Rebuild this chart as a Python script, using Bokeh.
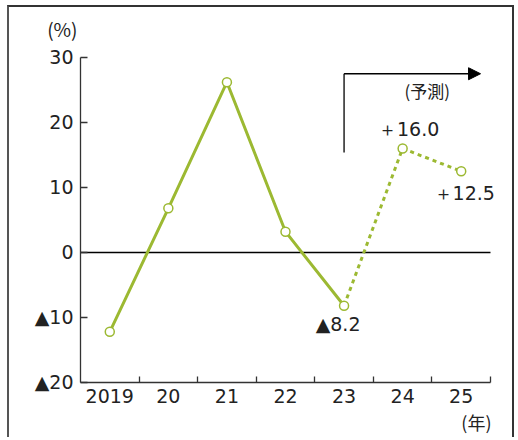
from bokeh.plotting import figure
from bokeh.models import Range1d, FixedTicker, Label, Arrow, NormalHead, ColumnDataSource
from bokeh.core.properties import value
from bokeh.embed import file_html
from bokeh.resources import INLINE

# ---- data ----
years = ["2019", "20", "21", "22", "23", "24", "25"]
growth = [-12.2, 6.8, 26.2, 3.2, -8.2, 16.0, 12.5]
n_actual = 5  # 2019..23 actual (solid), 23..25 forecast (dotted)
y_ticks = [-20, -10, 0, 10, 20, 30]
y_tick_labels = ["▲20", "▲10", "0", "10", "20", "30"]
label_idx = [4, 5, 6]
label_text = ["▲8.2", "＋16.0", "＋12.5"]
label_dx = [-6, 6, 3]
label_dy = [18, -19, 22]

GREEN = "#9cb932"
AXIS = "#333333"
TXT = "#222222"
NUM_FONT = "DejaVu Sans"
JP_FONT = "Noto Sans CJK JP"

xs = list(range(len(years)))
x_lo, x_hi = xs[0] - 0.5, xs[-1] + 0.5
y_lo, y_hi = y_ticks[0], y_ticks[-1]

# frame fills the whole canvas; axes are drawn at fixed positions inside it
W, H = 507, 432
p = figure(width=W, height=H,
           x_range=Range1d(-1.712, 6.944), y_range=Range1d(-28.77, 37.69),
           output_backend="svg", toolbar_location=None,
           min_border_left=0, min_border_right=0, min_border_top=0, min_border_bottom=0)
p.styles = {"margin-left": "7px", "margin-top": "5px",
            "border-left": "2px solid #555555", "border-top": "2px solid #333333",
            "border-right": "2px solid #333333"}
p.grid.visible = False
p.outline_line_color = None
p.background_fill_color = "white"
p.border_fill_color = "white"

# x axis: labels at category centres, tick marks at category boundaries
xa = p.xaxis[0]
xa.fixed_location = y_lo
xa.bounds = (x_lo, x_hi)
xa.ticker = FixedTicker(ticks=xs, minor_ticks=[i + 0.5 for i in xs])
xa.major_label_overrides = {i: years[i] for i in xs}
xa.major_tick_in = 0
xa.major_tick_out = 0
xa.minor_tick_in = 6
xa.minor_tick_out = 0
xa.minor_tick_line_color = AXIS
xa.minor_tick_line_width = 1.3
xa.axis_line_color = AXIS
xa.axis_line_width = 1.3
xa.major_label_text_font = NUM_FONT
xa.major_label_text_font_size = "19px"
xa.major_label_text_color = TXT
xa.major_label_standoff = 7

ya = p.yaxis[0]
ya.fixed_location = x_lo
ya.bounds = (y_lo, y_hi)
ya.ticker = FixedTicker(ticks=y_ticks, minor_ticks=[])
ya.major_label_overrides = {t: l for t, l in zip(y_ticks, y_tick_labels)}
ya.major_tick_in = 7
ya.major_tick_out = 0
ya.minor_tick_in = 0
ya.minor_tick_out = 0
ya.major_tick_line_color = AXIS
ya.major_tick_line_width = 1.3
ya.axis_line_color = AXIS
ya.axis_line_width = 1.3
ya.major_label_text_font = NUM_FONT
ya.major_label_text_font_size = "19px"
ya.major_label_text_color = TXT
ya.major_label_standoff = 7

# zero line across the category span
p.line([x_lo, x_hi], [0, 0], line_color="black", line_width=1.3)

# series
p.line(xs[:n_actual], growth[:n_actual], line_color=GREEN, line_width=3)
p.line(xs[n_actual - 1:], growth[n_actual - 1:], line_color=GREEN, line_width=3, line_dash="4 4")
p.scatter(xs, growth, marker="circle", size=9, fill_color="white", line_color=GREEN, line_width=1.5)

# value labels
src = ColumnDataSource(dict(x=[xs[i] for i in label_idx], y=[growth[i] for i in label_idx],
                            t=label_text, dx=label_dx, dy=label_dy))
p.text(x="x", y="y", text="t", x_offset="dx", y_offset="dy", source=src,
       text_font=value(NUM_FONT), text_font_size="19px", text_color=TXT,
       text_align="center", text_baseline="middle")

# forecast arrow
fc_x = xs[n_actual - 1]
p.add_layout(Arrow(end=None, x_start=fc_x, y_start=15.4, x_end=fc_x, y_end=27.5,
                   line_color="black", line_width=1.3))
p.add_layout(Arrow(end=NormalHead(size=12, fill_color="black", line_color="black"),
                   x_start=fc_x, y_start=27.5, x_end=6.33, y_end=27.5,
                   line_color="black", line_width=1.3))
p.add_layout(Label(x=5.42, y=24.9, text="(予測)", text_font=JP_FONT, text_font_size="17px",
                   text_color=TXT, text_align="center", text_baseline="middle"))

# unit labels
p.add_layout(Label(x=-0.81, y=34.46, text="(%)", text_font=JP_FONT, text_font_size="19px",
                   text_color=TXT, text_align="center", text_baseline="middle"))
p.add_layout(Label(x=6.26, y=-26.15, text="(年)", text_font=JP_FONT, text_font_size="18px",
                   text_color=TXT, text_align="center", text_baseline="middle"))

open("out.html", "w").write(file_html(p, INLINE))
